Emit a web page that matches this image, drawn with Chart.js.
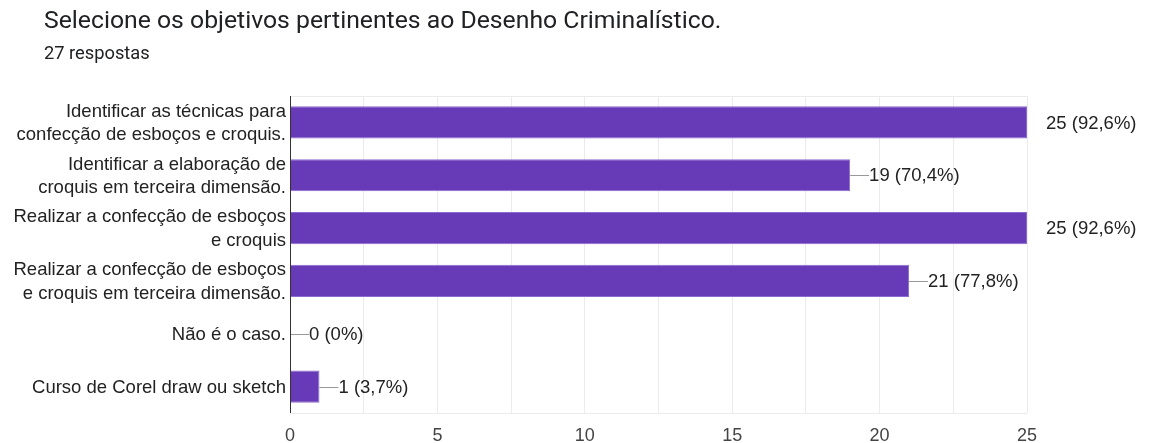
<!DOCTYPE html>
<html>
<head>
<meta charset="utf-8">
<script src="https://cdn.jsdelivr.net/npm/chart.js@4"></script>
<style>
  html, body { margin: 0; padding: 0; background: #fff; }
  #wrap { position: relative; width: 1150px; height: 443px; overflow: hidden; }
  #title { position: absolute; left: 44px; top: 5px; font: 24.75px Roboto, sans-serif; color: #202124; white-space: nowrap; }
  #sub { position: absolute; left: 44px; top: 42px; font: 18.3px Roboto, sans-serif; color: #202124; }
  #chartBox { position: absolute; left: 0; top: 0; width: 1150px; height: 443px; }
</style>
</head>
<body>
<div id="wrap">
  <div id="chartBox"><canvas id="myChart"></canvas></div>
  <div id="title">Selecione os objetivos pertinentes ao Desenho Criminalístico.</div>
  <div id="sub">27 respostas</div>
</div>
<script>
const totalResponses = 27;
const categories = [
    ['Identificar as técnicas para', 'confecção de esboços e croquis.'],
    ['Identificar a elaboração de', 'croquis em terceira dimensão.'],
    ['Realizar a confecção de esboços', 'e croquis'],
    ['Realizar a confecção de esboços', 'e croquis em terceira dimensão.'],
    'Não é o caso.',
    'Curso de Corel draw ou sketch'
];
const counts = [25, 19, 25, 21, 0, 1];
const xTicks = [0, 5, 10, 15, 20, 25];

const labelFont = '"Liberation Sans", Arial, sans-serif';

function pctLabel(v) {
    const p = v / totalResponses * 100;
    const txt = v === 0 ? '0' : p.toFixed(1).replace('.', ',');
    return v + ' (' + txt + '%)';
}

// value labels with a short leader line after each bar
const valueLabels = {
    id: 'valueLabels',
    afterDatasetsDraw(chart) {
        const ctx = chart.ctx;
        const meta = chart.getDatasetMeta(0);
        const xMax = chart.scales.x.max;
        ctx.save();
        ctx.font = '18.5px ' + labelFont;
        ctx.fillStyle = '#222';
        ctx.textBaseline = 'middle';
        meta.data.forEach((bar, i) => {
            const x = bar.x;
            const y = bar.y;
            if (counts[i] < xMax) {
                ctx.strokeStyle = '#999';
                ctx.lineWidth = 1;
                ctx.beginPath();
                ctx.moveTo(x, Math.round(y) + 0.5);
                ctx.lineTo(x + 19, Math.round(y) + 0.5);
                ctx.stroke();
            }
            ctx.fillText(pctLabel(counts[i]), x + 19, y + 1);
        });
        ctx.restore();
    }
};

// light frame top/bottom, dark baseline at zero
const frameLines = {
    id: 'frameLines',
    beforeDatasetsDraw(chart) {
        const { ctx, chartArea } = chart;
        ctx.save();
        ctx.strokeStyle = '#ebebeb';
        ctx.lineWidth = 1;
        ctx.beginPath();
        ctx.moveTo(chartArea.left, Math.round(chartArea.top) + 0.5);
        ctx.lineTo(chartArea.right, Math.round(chartArea.top) + 0.5);
        ctx.moveTo(chartArea.left, Math.round(chartArea.bottom) + 0.5);
        ctx.lineTo(chartArea.right, Math.round(chartArea.bottom) + 0.5);
        ctx.stroke();
        ctx.restore();
    },
    afterDatasetsDraw(chart) {
        const ctx = chart.ctx;
        const x = Math.round(chart.scales.x.getPixelForValue(0)) + 0.5;
        ctx.save();
        ctx.strokeStyle = '#333';
        ctx.lineWidth = 1;
        ctx.beginPath();
        ctx.moveTo(x, chart.chartArea.top);
        ctx.lineTo(x, chart.chartArea.bottom);
        ctx.stroke();
        ctx.restore();
    }
};

const ctx = document.getElementById('myChart').getContext('2d');
const myChart = new Chart(ctx, {
    type: 'bar',
    data: {
        labels: categories,
        datasets: [{
            data: counts,
            backgroundColor: '#673ab7',
            borderColor: '#8c6bd0',
            borderWidth: 1,
            categoryPercentage: 1,
            barPercentage: 0.61
        }]
    },
    options: {
        indexAxis: 'y',
        responsive: true,
        maintainAspectRatio: false,
        animation: false,
        layout: {
            padding: { top: 96, right: 123, bottom: 0, left: 0 }
        },
        scales: {
            x: {
                min: 0,
                max: 25,
                afterBuildTicks(scale) {
                    const t = [];
                    for (let v = 0; v <= 25; v += 2.5) t.push({ value: v });
                    scale.ticks = t;
                },
                afterFit(scale) { scale.height = 30; },
                grid: {
                    color: '#ebebeb',
                    drawTicks: false
                },
                border: { display: false },
                ticks: {
                    color: '#444',
                    padding: 12,
                    font: { family: labelFont, size: 18 },
                    callback: (v) => xTicks.includes(v) ? v : ''
                }
            },
            y: {
                afterFit(scale) { scale.width = 290; },
                grid: { display: false, drawTicks: false },
                border: { display: false },
                ticks: {
                    color: '#222',
                    padding: 4,
                    labelOffset: 1,
                    font: { family: labelFont, size: 18.5, lineHeight: 1.28 }
                }
            }
        },
        plugins: {
            legend: { display: false },
            tooltip: { enabled: false }
        }
    },
    plugins: [valueLabels, frameLines]
});
</script>
</body>
</html>
